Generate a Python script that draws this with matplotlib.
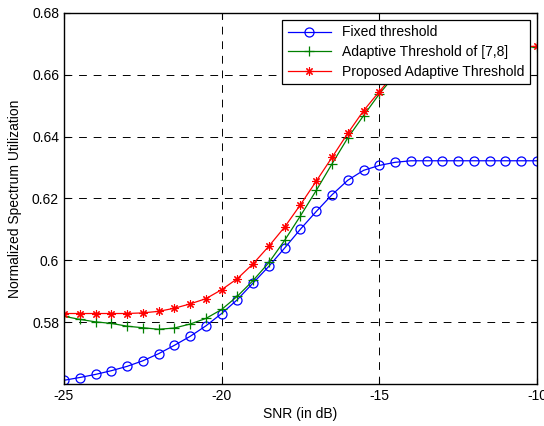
import matplotlib.pyplot as plt
import numpy as np

plt.rcParams['font.family'] = ['Liberation Sans', 'DejaVu Sans']
plt.rcParams['font.size'] = 10

snr = np.arange(-25, -9.99, 0.5)

fixed = [0.5612, 0.5621, 0.5631, 0.5643, 0.5657, 0.5675, 0.5698, 0.5725,
         0.5754, 0.5788, 0.5828, 0.5873, 0.5927, 0.5981, 0.6040, 0.6101,
         0.6158, 0.6212, 0.6259, 0.6291, 0.6307, 0.6317, 0.6322, 0.6322,
         0.6322, 0.6322, 0.6322, 0.6322, 0.6322, 0.6322, 0.6322]

adaptive_ref = [0.5819, 0.5809, 0.5801, 0.5796, 0.5787, 0.5782, 0.5777, 0.5781,
                0.5794, 0.5812, 0.5841, 0.5884, 0.5935, 0.5993, 0.6065, 0.6144,
                0.6226, 0.6312, 0.6396, 0.6468, 0.6538, 0.6600, 0.6636, 0.6658,
                0.6672, 0.6680, 0.6685, 0.6687, 0.6689, 0.6690, 0.6690]

proposed = [0.5828, 0.5828, 0.5828, 0.5828, 0.5828, 0.5830, 0.5835, 0.5845,
            0.5859, 0.5876, 0.5905, 0.5941, 0.5989, 0.6046, 0.6108, 0.6180,
            0.6256, 0.6333, 0.6411, 0.6484, 0.6546, 0.6605, 0.6640, 0.6662,
            0.6675, 0.6683, 0.6688, 0.6690, 0.6691, 0.6692, 0.6692]

fig = plt.figure(figsize=(5.44, 4.26), dpi=100)
ax = fig.add_axes([0.1176, 0.0986, 0.8695, 0.8709])

ax.plot(snr, fixed, '-o', color='blue', linewidth=0.9, ms=6.5,
        mfc='none', mew=0.9, label='Fixed threshold')
ax.plot(snr, adaptive_ref, '-+', color=(0, 0.5, 0), linewidth=0.9, ms=7,
        mew=0.9, label='Adaptive Threshold of [7,8]')
ax.plot(snr, proposed, '-', marker=(8, 2, 0), color='red', linewidth=0.9, ms=6,
        mew=0.8, label='Proposed Adaptive Threshold')

ax.set_xlim(-25, -10)
ax.set_ylim(0.56, 0.68)
ax.set_xticks([-25, -20, -15, -10])
ax.set_xticklabels(['-25', '-20', '-15', '-10'])
ax.set_yticks([0.58, 0.6, 0.62, 0.64, 0.66, 0.68])
ax.set_yticklabels(['0.58', '0.6', '0.62', '0.64', '0.66', '0.68'])
ax.tick_params(direction='in', length=4, width=0.8)
ax.tick_params(top=True, right=True)
ax.grid(True, color='black', linestyle=(0, (8, 7)), linewidth=0.7)
for s in ax.spines.values():
    s.set_linewidth(1.0)

ax.set_xlabel('SNR (in dB)', labelpad=3)
ax.set_ylabel('Normalized Spectrum Utilization', labelpad=7)

leg = ax.legend(loc='upper right', fancybox=False, edgecolor='black',
                framealpha=1, handlelength=3.1, borderaxespad=0.5,
                labelspacing=0.4, borderpad=0.4)
leg.get_frame().set_linewidth(0.9)

fig.savefig('out.png', dpi=100)
